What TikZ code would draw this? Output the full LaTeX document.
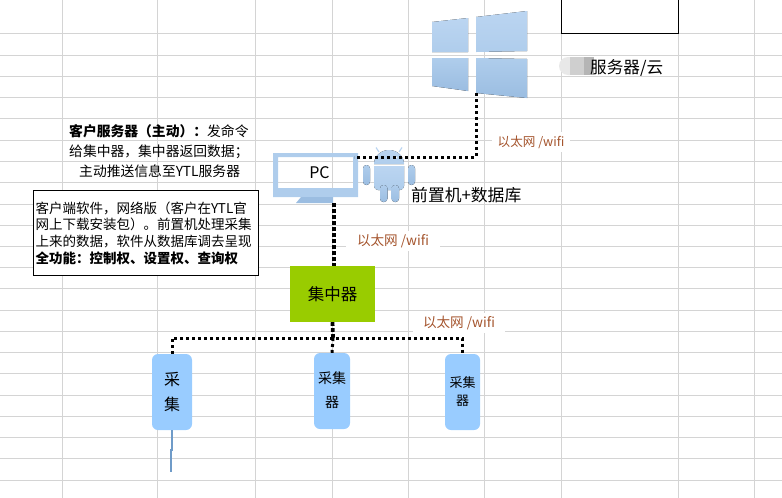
\documentclass[tikz,border=0pt]{standalone}
\usepackage{fontspec}
\setmainfont{Noto Sans CJK SC}
\usetikzlibrary{positioning}
\definecolor{gridgray}{HTML}{D4D4D4}
\definecolor{hubgreen}{HTML}{99CC00}
\definecolor{cellblue}{HTML}{99CCFF}
\definecolor{nettext}{HTML}{A5552E}
\definecolor{iconlight}{HTML}{BBD5F1}
\definecolor{iconmid}{HTML}{AFCDEC}
\definecolor{icondark}{HTML}{9BBDE1}
\definecolor{tailblue}{HTML}{6F9BC8}
\newcommand{\cnc}{\char"FF0C\relax}
\newcommand{\cnl}{\char"FF08\relax}
\newcommand{\cnr}{\char"FF09\relax}
\newcommand{\cns}{\char"FF1A\relax}
\newcommand{\cnd}{\char"FF1B\relax}
\tikzset{
  dotlink/.style={line width=3pt,dash pattern=on 3pt off 3pt},
  dotfat/.style={line width=3.8pt,dash pattern=on 3.6pt off 2.4pt},
  netlabel/.style={fill=white,text=nettext,inner sep=0pt,minimum height=20pt},
  cellbox/.style={fill=cellblue,rounded corners=6pt,align=center,inner sep=0pt},
  iconup/.style={top color=iconlight,bottom color=iconmid},
  icondown/.style={top color=iconmid,bottom color=icondark},
}
\begin{document}
\begin{tikzpicture}[x=1pt,y=-1pt]
\useasboundingbox (0,0) rectangle (782,498);
\foreach \gx in {62,157,255,332,408,484,561,678,754}
  \draw[gridgray,line width=0.9pt] (\gx,0) -- (\gx,498);
\foreach \gy in {33,55,76,97,118,140,161,182,204,225,246,267,288,310,331,352,373,395,416,437,458,480}
  \draw[gridgray,line width=0.9pt] (0,\gy) -- (782,\gy);

% server side
\node[draw=black,fill=white,line width=1pt,minimum width=117pt,minimum height=34pt,inner sep=0pt] (blank) at (619.5,16.5) {};
\fill[iconup] (432,22) -- (468,18) -- (468,52) -- (432,52) -- cycle;
\fill[iconup] (476,17) -- (527,11) -- (527,51) -- (476,52) -- cycle;
\fill[icondown] (432,58) -- (468,58) -- (468,91) -- (432,86) -- cycle;
\fill[icondown] (476,58) -- (527,59) -- (527,98) -- (476,93) -- cycle;
\coordinate (winfoot) at (476,93);
\fill[black!9] (568,57) arc (270:90:9) -- (570,75) -- (570,57) -- cycle;
\fill[black!19] (570,57) rectangle (584,75);
\fill[black!29] (584,57) rectangle (594,75);
\node[font=\fontsize{16.6}{18}\selectfont,anchor=west,inner sep=0pt] (cloud) at (590,68) {服务器/云};

% pc and android
\fill[iconmid,even odd rule] (273,153) rectangle (358,197) (278,157) rectangle (353,188);
\fill[icondark] (301,197) -- (333,197) -- (333,203) -- (296,203) -- cycle;
\node[font=\fontsize{16}{18}\selectfont,inner sep=0pt] (pc) at (319.5,173) {PC};
\coordinate (pcside) at (354,157);
\coordinate (pcfoot) at (334,203);
\fill[iconup] (374,164) arc (180:360:15 and 14) -- cycle;
\fill[iconup] (374,166) -- (404,166) -- (404,186) arc (0:90:4) -- (378,190) arc (90:180:4) -- cycle;
\fill[icondown,rounded corners=3.5pt] (363,165) rectangle (370,185);
\fill[icondown,rounded corners=3.5pt] (408,165) rectangle (415,185);
\fill[icondown,rounded corners=3.5pt] (380,185) rectangle (387.5,202);
\fill[icondown,rounded corners=3.5pt] (391.5,185) rectangle (399,202);
\draw[iconlight,line width=1.2pt] (379,152) -- (376,147.5) (399,152) -- (402,147.5);
\fill[white] (382,157.5) circle (1.2) (396,157.5) circle (1.2);
\node[font=\fontsize{16.8}{18}\selectfont,anchor=west,inner sep=0pt] (db) at (411,195) {前置机+数据库};

% collectors
\node[fill=hubgreen,minimum width=85pt,minimum height=56pt,inner sep=0pt,font=\fontsize{16.5}{18}\selectfont] (hub) at (332.5,294) {集中器};
\node[cellbox,minimum width=40pt,minimum height=76pt,font=\fontsize{16}{25}\selectfont] (cella) at (172,392) {采\\集};
\node[cellbox,minimum width=36pt,minimum height=76pt,font=\fontsize{14}{24}\selectfont] (cellb) at (332,391) {\raisebox{2pt}{采集}\\\raisebox{2pt}{器}};
\node[cellbox,minimum width=35pt,minimum height=76pt,font=\fontsize{13}{18}\selectfont] (cellc) at (462.5,392) {\raisebox{2pt}{采集}\\\raisebox{2pt}{器}};
\coordinate (bus) at (333,338);
\coordinate (tailmid) at (172,450);
\coordinate (tailend) at (171,472);
\draw[dotlink] (cella.north) |- (bus) -| (cellc.north);
\draw[dotfat] (hub.south) -- (bus);
\draw[dotlink] (bus) -- (cellb.north);
\draw[tailblue,line width=1.3pt] (cella.south) -- (tailmid) -- (tailmid -| tailend) -- (tailend);
\draw[dotlink] (winfoot) |- (pcside);
\draw[dotfat] (pcfoot) -- (pcfoot |- hub.north);

% labels
\node[netlabel,minimum width=78pt,font=\fontsize{12.6}{15}\selectfont] (netup) at (531,142) {以太网 /wifi};
\node[netlabel,minimum width=94pt,font=\fontsize{13.6}{15}\selectfont] (netmid) at (393,241) {以太网 /wifi};
\node[netlabel,minimum width=92pt,font=\fontsize{13.6}{15}\selectfont] (netlow) at (459,323) {以太网 /wifi};
\node[anchor=north west,align=left,inner sep=0pt,font=\fontsize{13.8}{20}\selectfont] (role) at (69,124)
  {\textbf{客户服务器\cnl 主动\cnr\cns}发命令\\给集中器\cnc 集中器返回数据\cnd\\\hspace*{10pt}主动推送信息至YTL服务器};
\node[draw=black,fill=white,line width=1pt,anchor=north west,text width=221pt,minimum height=85pt,inner sep=2pt,align=left,font=\fontsize{13.5}{16.6}\selectfont] (soft) at (33,190)
  {客户端软件\cnc 网络版\cnl 客户在YTL官\\网上下载安装包\cnr。前置机处理采集\\上来的数据\cnc 软件从数据库调去呈现\\\textbf{全功能\cns 控制权、设置权、查询权}};
\end{tikzpicture}
\end{document}
